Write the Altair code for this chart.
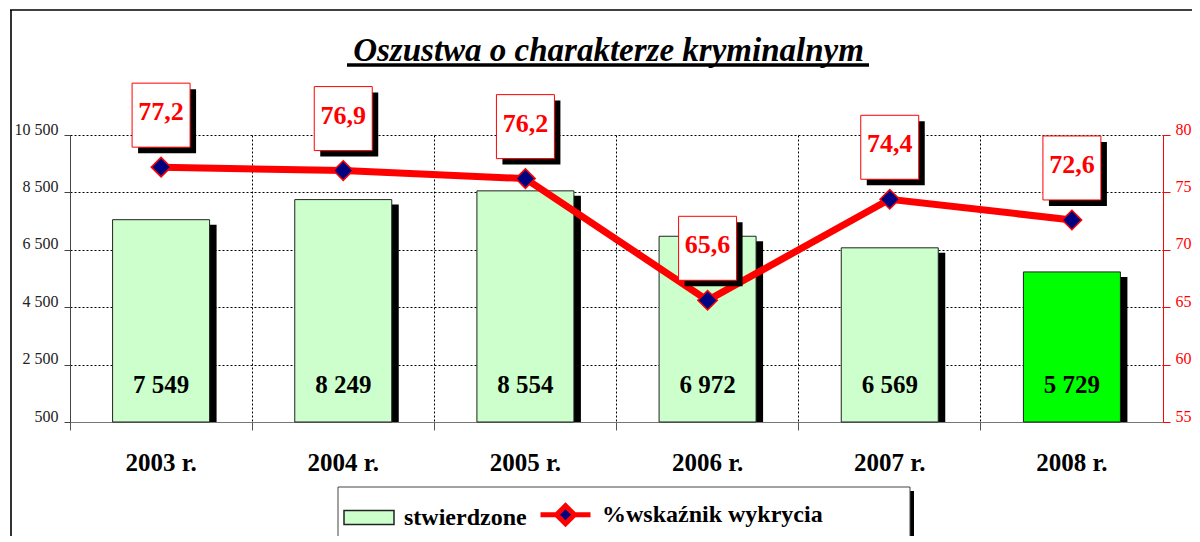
import altair as alt
import pandas as pd

# ---- data ----
years = ["2003 r.", "2004 r.", "2005 r.", "2006 r.", "2007 r.", "2008 r."]
stwierdzone = [7549, 8249, 8554, 6972, 6569, 5729]
wskaznik = [77.2, 76.9, 76.2, 65.6, 74.4, 72.6]
series_names = ["stwierdzone", "%wskaźnik wykrycia"]
left_ticks = [500, 2500, 4500, 6500, 8500, 10500]
right_ticks = [55, 60, 65, 70, 75, 80]
title_text = "Oszustwa o charakterze kryminalnym"

df = pd.DataFrame({"rok": years, "stw": stwierdzone, "proc": wskaznik})
legend_df = pd.DataFrame({"seria": series_names})
one = pd.DataFrame({"d": [0]})

SERIF = "Liberation Serif"
W, H = 1093, 287
PALE, BRIGHT, NAVY, RED = "#CCFFCC", "#00FF00", "#000080", "#FF0000"

BOX_PATH = "M-0.906,-2.625L0.906,-2.625L0.906,-0.625L-0.906,-0.625Z"
RECT_PATH = "M-1,-0.28L1,-0.28L1,0.28L-1,0.28Z"
LINE_PATH = "M-1,0L-0.36,0M0.36,0L1,0M0,-0.36L0.36,0L0,0.36L-0.36,0Z"

x_enc = alt.X(
    "rok:N", sort=years,
    scale=alt.Scale(domain=years, paddingInner=0, paddingOuter=0),
    axis=alt.Axis(title=None, bandPosition=0, labelAngle=0,
                  grid=True, gridDash=[2, 2], gridColor="#000", gridWidth=1,
                  tickSize=8, tickColor="#555", domainColor="#777",
                  labelFont=SERIF, labelFontSize=25, labelFontWeight="bold",
                  labelColor="#000", labelPadding=20),
)

y_left = alt.Y(
    "stw:Q",
    scale=alt.Scale(domain=[500, 10500], nice=False, zero=False),
    axis=alt.Axis(title=None, orient="left", values=left_ticks, grid=True,
                  gridDash=[2, 2], gridColor="#000", gridWidth=1,
                  tickSize=6, tickColor="#444", domainColor="#444",
                  labelFont=SERIF, labelFontSize=16, labelColor="#222",
                  labelBaseline="alphabetic", labelPadding=6, labelOffset=-1,
                  labelExpr="replace(format(datum.value, ','), ',', ' ')"),
)

y_right = alt.Y(
    "proc:Q",
    scale=alt.Scale(domain=[55, 80], nice=False, zero=False),
    axis=alt.Axis(title=None, orient="right", values=right_ticks, grid=False,
                  tickSize=7, tickColor=RED, domainColor=RED,
                  labelFont=SERIF, labelFontSize=16, labelColor=RED,
                  labelBaseline="alphabetic", labelPadding=5, labelOffset=-1,
                  labelExpr="replace(format(datum.value, '.1f'), '.', ',')"),
)

base = alt.Chart(df).transform_calculate(
    lbl="replace(format(datum.stw, ','), ',', ' ')",
    plbl="replace(format(datum.proc, '.1f'), '.', ',')",
)

bar_shadow = base.mark_bar(width=97, color="#000", xOffset=7, yOffset=5).encode(
    x=x_enc, y=y_left, y2=alt.datum(500))
bars = base.mark_bar(width=97, stroke="#222", strokeWidth=1).encode(
    x=x_enc, y=y_left, y2=alt.datum(500),
    fill=alt.condition(alt.datum.rok == years[-1], alt.value(BRIGHT), alt.value(PALE)))
bar_text = base.mark_text(font=SERIF, fontSize=25, fontWeight="bold", color="#000",
                          baseline="alphabetic", dy=-29).encode(
    x=x_enc, y=alt.datum(500), text="lbl:N")
left_group = alt.layer(bar_shadow, bars, bar_text)

line = base.mark_line(color=RED, strokeWidth=7).encode(x=x_enc, y=y_right)
pts = base.mark_point(shape="diamond", filled=True, fill=NAVY, stroke=RED,
                      strokeWidth=1.5, size=380, opacity=1).encode(x=x_enc, y=y_right)
box_shadow = base.mark_point(shape=BOX_PATH, size=4096, filled=True, fill="#000",
                             strokeWidth=0, opacity=1, xOffset=6, yOffset=6).encode(
    x=x_enc, y=y_right)
box = base.mark_point(shape=BOX_PATH, size=4096, filled=True, fill="#FFF",
                      stroke=RED, strokeWidth=1, opacity=1).encode(x=x_enc, y=y_right)
box_text = base.mark_text(font=SERIF, fontSize=26, fontWeight="bold", color=RED,
                          baseline="alphabetic", dy=-47).encode(
    x=x_enc, y=y_right, text="plbl:N")
right_group = alt.layer(line, pts, box_shadow, box, box_text)

# decorations
frame_left = alt.Chart(one).mark_rule(color="#333", strokeWidth=2).encode(
    x=alt.value(-59), y=alt.value(-125), y2=alt.value(H + 130))
frame_top = alt.Chart(one).mark_rule(color="#000", strokeWidth=1.5).encode(
    x=alt.value(-60), x2=alt.value(W + 60), y=alt.value(-125))
underline = alt.Chart(one).mark_rule(color="#000", strokeWidth=3.5).encode(
    x=alt.value(277), x2=alt.value(799), y=alt.value(-70))
legend_shadow = alt.Chart(one).mark_rect(color="#000").encode(
    x=alt.value(272), x2=alt.value(844), y=alt.value(356), y2=alt.value(408))
legend_box = alt.Chart(one).mark_rect(fill="#FFF", stroke="#444", strokeWidth=1).encode(
    x=alt.value(268), x2=alt.value(840), y=alt.value(352), y2=alt.value(404))

leg = alt.Legend(title=None, orient="none", legendX=273, legendY=352,
                 direction="horizontal", labelFont=SERIF, labelFontSize=24,
                 labelFontWeight="bold", labelColor="#000", symbolSize=2500,
                 labelOffset=9, columnPadding=3, symbolOpacity=1, labelLimit=400)
legend_layer = alt.Chart(legend_df).mark_point(filled=True, opacity=0).encode(
    color=alt.Color("seria:N", scale=alt.Scale(domain=series_names, range=[PALE, NAVY]), legend=leg),
    shape=alt.Shape("seria:N", scale=alt.Scale(domain=series_names, range=[RECT_PATH, LINE_PATH]), legend=leg),
    stroke=alt.Stroke("seria:N", scale=alt.Scale(domain=series_names, range=["#222222", RED]), legend=leg),
    strokeWidth=alt.StrokeWidth("seria:N", scale=alt.Scale(type="point", domain=series_names,
                                                           range=[1.5, 5], padding=0), legend=leg),
)

chart = alt.layer(
    frame_left, frame_top, legend_shadow, legend_box,
    left_group, right_group, underline, legend_layer,
).resolve_scale(y="independent").properties(
    width=W, height=H,
    autosize=alt.AutoSizeParams(type="none"),
    padding={"left": 62, "top": 127, "right": 29, "bottom": 114},
    title=alt.Title(title_text, font=SERIF, fontSize=33, fontStyle="italic",
                    fontWeight="bold", color="#000", anchor="middle", frame="group",
                    dx=-8, offset=-85, baseline="alphabetic"),
    background="#FFFFFF",
).configure_view(stroke=None)

chart.save("out.html", embed_options={"renderer": "svg", "actions": False})
